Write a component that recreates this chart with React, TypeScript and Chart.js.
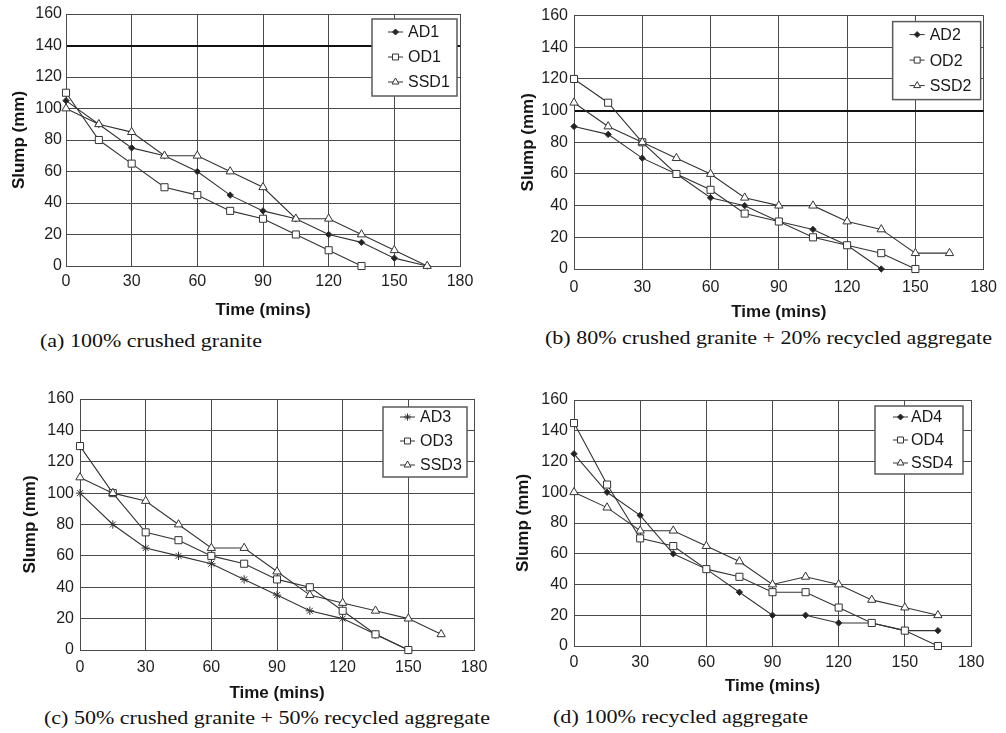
import React, { useEffect, useLayoutEffect, useRef } from 'react';
import { Chart, registerables } from 'chart.js';

Chart.register(...registerables);

// ---------- data ----------
const timeMins = [0, 15, 30, 45, 60, 75, 90, 105, 120, 135, 150, 165];
const xTickValues = [0, 30, 60, 90, 120, 150, 180];
const yTickValues = [0, 20, 40, 60, 80, 100, 120, 140, 160];

const ad1 = [105, 90, 75, 70, 60, 45, 35, 30, 20, 15, 5, 0];
const od1 = [110, 80, 65, 50, 45, 35, 30, 20, 10, 0];
const ssd1 = [100, 90, 85, 70, 70, 60, 50, 30, 30, 20, 10, 0];

const ad2 = [90, 85, 70, 60, 45, 40, 30, 25, 15, 0];
const od2 = [120, 105, 80, 60, 50, 35, 30, 20, 15, 10, 0];
const ssd2 = [105, 90, 80, 70, 60, 45, 40, 40, 30, 25, 10, 10];

const ad3 = [100, 80, 65, 60, 55, 45, 35, 25, 20, 10, 0];
const od3 = [130, 100, 75, 70, 60, 55, 45, 40, 25, 10, 0];
const ssd3 = [110, 100, 95, 80, 65, 65, 50, 35, 30, 25, 20, 10];

const ad4 = [125, 100, 85, 60, 50, 35, 20, 20, 15, 15, 10, 10];
const od4 = [145, 105, 70, 65, 50, 45, 35, 35, 25, 15, 10, 0];
const ssd4 = [100, 90, 75, 75, 65, 55, 40, 45, 40, 30, 25, 20];

const xTitle = 'Time (mins)';
const yTitle = 'Slump (mm)';

// ---------- styles ----------
const LINE = '#333333';
const GRID = '#4a4a4a';
const SANS = '"Liberation Sans", Arial, Helvetica, sans-serif';
const SERIF = '"Liberation Serif", "Times New Roman", Times, serif';

type MarkStyle = { point: string; r: number; fill: string; lr: number; order: number };
const DIAMOND: MarkStyle = { point: 'rectRot', r: 3.2, fill: '#222', lr: 3, order: 3 };
const SQUARE: MarkStyle = { point: 'rect', r: 5, fill: '#fff', lr: 4.2, order: 2 };
const TRIANGLE: MarkStyle = { point: 'triangle', r: 4.8, fill: '#fff', lr: 4, order: 1 };
const STAR: MarkStyle = { point: 'star', r: 4.2, fill: '#fff', lr: 3.6, order: 3 };

type Series = { label: string; values: number[]; style: MarkStyle };
type PanelCfg = {
  left: number; top: number; width: number;
  plot: { l: number; r: number; t: number; b: number };
  xTickPad: number; titleY: number; yTitleX: number; yTickPad: number;
  legend: { right: number; top: number; w: number; h: number; first: number; gap: number; ls: number; le: number; tx: number };
  emph: number | null;
  caption: string; capX: number; capY: number; capW: number;
  series: Series[];
};

const panels: PanelCfg[] = [
  {
    left: 0, top: 0, width: 500,
    plot: { l: 66, r: 460, t: 14, b: 266 },
    xTickPad: 6, titleY: 311, yTitleX: 19.5, yTickPad: 4,
    legend: { right: 3, top: 5, w: 85, h: 77, first: 13, gap: 25, ls: 16, le: 31, tx: 36 },
    emph: 140,
    caption: '(a) 100% crushed granite', capX: 40, capY: 341, capW: 222,
    series: [
      { label: 'AD1', values: ad1, style: DIAMOND },
      { label: 'OD1', values: od1, style: SQUARE },
      { label: 'SSD1', values: ssd1, style: TRIANGLE },
    ],
  },
  {
    left: 500, top: 0, width: 506,
    plot: { l: 574, r: 987, t: 13, b: 269 },
    xTickPad: 9, titleY: 313, yTitleX: 528, yTickPad: 6,
    legend: { right: 3, top: 6, w: 88, h: 78, first: 13, gap: 25.5, ls: 17, le: 32, tx: 37 },
    emph: 100,
    caption: '(b) 80% crushed granite + 20% recycled aggregate', capX: 545, capY: 338, capW: 447,
    series: [
      { label: 'AD2', values: ad2, style: DIAMOND },
      { label: 'OD2', values: od2, style: SQUARE },
      { label: 'SSD2', values: ssd2, style: TRIANGLE },
    ],
  },
  {
    left: 0, top: 370, width: 500,
    plot: { l: 80, r: 474, t: 399, b: 650 },
    xTickPad: 8, titleY: 694, yTitleX: 30, yTickPad: 6,
    legend: { right: 7, top: 8, w: 84, h: 70, first: 10, gap: 24, ls: 17, le: 32, tx: 37 },
    emph: null,
    caption: '(c) 50% crushed granite + 50% recycled aggregate', capX: 44, capY: 718, capW: 446,
    series: [
      { label: 'AD3', values: ad3, style: STAR },
      { label: 'OD3', values: od3, style: SQUARE },
      { label: 'SSD3', values: ssd3, style: TRIANGLE },
    ],
  },
  {
    left: 500, top: 370, width: 506,
    plot: { l: 574, r: 971, t: 400, b: 646 },
    xTickPad: 7, titleY: 687, yTitleX: 523, yTickPad: 6,
    legend: { right: 8, top: 6, w: 88, h: 68, first: 11, gap: 23, ls: 18, le: 33, tx: 36 },
    emph: null,
    caption: '(d) 100% recycled aggregate', capX: 553, capY: 717, capW: 255,
    series: [
      { label: 'AD4', values: ad4, style: DIAMOND },
      { label: 'OD4', values: od4, style: SQUARE },
      { label: 'SSD4', values: ssd4, style: TRIANGLE },
    ],
  },
];

// ---------- legend plugin ----------
function drawMarker(ctx: CanvasRenderingContext2D, style: MarkStyle, x: number, y: number) {
  const r = style.lr;
  ctx.save();
  ctx.strokeStyle = LINE;
  ctx.lineWidth = 1;
  ctx.fillStyle = style.fill;
  ctx.beginPath();
  if (style.point === 'rectRot') {
    ctx.moveTo(x, y - r); ctx.lineTo(x + r, y); ctx.lineTo(x, y + r); ctx.lineTo(x - r, y); ctx.closePath();
    ctx.fill(); ctx.stroke();
  } else if (style.point === 'rect') {
    const s = r * Math.SQRT1_2;
    ctx.rect(x - s, y - s, 2 * s, 2 * s);
    ctx.fill(); ctx.stroke();
  } else if (style.point === 'triangle') {
    ctx.moveTo(x, y - r); ctx.lineTo(x + r * 0.866, y + r * 0.5); ctx.lineTo(x - r * 0.866, y + r * 0.5); ctx.closePath();
    ctx.fill(); ctx.stroke();
  } else if (style.point === 'star') {
    const d = r * Math.SQRT1_2;
    ctx.moveTo(x - r, y); ctx.lineTo(x + r, y);
    ctx.moveTo(x, y - r); ctx.lineTo(x, y + r);
    ctx.moveTo(x - d, y - d); ctx.lineTo(x + d, y + d);
    ctx.moveTo(x - d, y + d); ctx.lineTo(x + d, y - d);
    ctx.stroke();
  }
  ctx.restore();
}

const boxLegend = {
  id: 'boxLegend',
  afterDatasetsDraw(chart: any, _args: any, opts: any) {
    const { ctx, chartArea } = chart;
    const x0 = chartArea.right - opts.right - opts.w;
    const y0 = chartArea.top + opts.top;
    ctx.save();
    ctx.fillStyle = '#ffffff';
    ctx.fillRect(x0, y0, opts.w, opts.h);
    ctx.strokeStyle = '#5a5a5a';
    ctx.lineWidth = 1.5;
    ctx.strokeRect(x0, y0, opts.w, opts.h);
    chart.data.datasets.forEach((ds: any, i: number) => {
      const y = y0 + opts.first + i * opts.gap;
      ctx.strokeStyle = LINE;
      ctx.lineWidth = 1;
      ctx.beginPath();
      ctx.moveTo(x0 + opts.ls, y);
      ctx.lineTo(x0 + opts.le, y);
      ctx.stroke();
      drawMarker(ctx, ds.markStyle, x0 + (opts.ls + opts.le) / 2, y);
      ctx.fillStyle = '#1a1a1a';
      ctx.font = `16px ${SANS}`;
      ctx.textBaseline = 'middle';
      ctx.textAlign = 'left';
      ctx.fillText(ds.label, x0 + opts.tx, y + 1);
    });
    ctx.restore();
  },
};

// ---------- components ----------
function Panel({ cfg }: { cfg: PanelCfg }) {
  const ref = useRef<HTMLCanvasElement>(null);
  const height = Math.round(cfg.titleY - cfg.top + 14);

  useEffect(() => {
    const canvas = ref.current;
    if (!canvas) return;
    const yAxisWidth = cfg.plot.l - cfg.left;
    const xAxisHeight = height - (cfg.plot.b - cfg.top);
    const chart = new Chart(canvas, {
      type: 'line',
      data: {
        datasets: cfg.series.map((s) => ({
          label: s.label,
          markStyle: s.style,
          order: s.style.order,
          data: s.values.map((v, i) => ({ x: timeMins[i], y: v })),
          borderColor: LINE,
          borderWidth: 1.1,
          backgroundColor: s.style.fill,
          pointStyle: s.style.point,
          pointRadius: s.style.r,
          pointHoverRadius: s.style.r,
          pointBorderColor: LINE,
          pointBackgroundColor: s.style.fill,
          pointBorderWidth: 1,
          tension: 0,
          fill: false,
          clip: false,
        })) as any,
      },
      options: {
        responsive: false,
        animation: false,
        events: [],
        layout: {
          padding: {
            left: 0,
            top: cfg.plot.t - cfg.top,
            right: cfg.left + cfg.width - cfg.plot.r,
            bottom: 0,
          },
        },
        plugins: {
          legend: { display: false },
          tooltip: { enabled: false },
          boxLegend: cfg.legend,
        } as any,
        scales: {
          x: {
            type: 'linear',
            min: 0,
            max: 180,
            afterBuildTicks: (s: any) => { s.ticks = xTickValues.map((v) => ({ value: v })); },
            afterFit: (s: any) => { s.height = xAxisHeight; },
            grid: { color: GRID, lineWidth: 1, drawTicks: false },
            border: { color: GRID, width: 1 },
            ticks: {
              padding: cfg.xTickPad,
              color: '#1e1e1e',
              font: { family: SANS, size: 16, lineHeight: 1.2 },
              maxRotation: 0,
              autoSkip: false,
            },
            title: {
              display: true,
              text: xTitle,
              color: '#151515',
              font: { family: SANS, size: 17, weight: 'bold', lineHeight: 1.2 },
              padding: { top: 0, bottom: 4 },
            },
          },
          y: {
            type: 'linear',
            min: 0,
            max: 160,
            afterBuildTicks: (s: any) => { s.ticks = yTickValues.map((v) => ({ value: v })); },
            afterFit: (s: any) => { s.width = yAxisWidth; },
            grid: {
              color: (c: any) => (cfg.emph !== null && c.tick && c.tick.value === cfg.emph ? '#111' : GRID),
              lineWidth: (c: any) => (cfg.emph !== null && c.tick && c.tick.value === cfg.emph ? 2 : 1),
              drawTicks: false,
            },
            border: { color: GRID, width: 1 },
            ticks: {
              padding: cfg.yTickPad,
              color: '#1e1e1e',
              font: { family: SANS, size: 16, lineHeight: 1.2 },
              autoSkip: false,
            },
            title: {
              display: true,
              text: yTitle,
              color: '#151515',
              font: { family: SANS, size: 17, weight: 'bold', lineHeight: 1.2 },
              padding: { top: cfg.yTitleX - cfg.left - 10.2, bottom: 0 },
            },
          },
        },
      },
      plugins: [boxLegend as any],
    });
    return () => chart.destroy();
  }, [cfg, height]);

  return (
    <canvas
      ref={ref}
      width={cfg.width}
      height={height}
      style={{ position: 'absolute', left: cfg.left, top: cfg.top, width: cfg.width, height }}
    />
  );
}

function Caption({ text, x, y, w }: { text: string; x: number; y: number; w: number }) {
  const ref = useRef<HTMLSpanElement>(null);
  useLayoutEffect(() => {
    const el = ref.current;
    if (!el) return;
    el.style.transform = 'none';
    const natural = el.getBoundingClientRect().width;
    if (natural > 0) el.style.transform = `scaleX(${w / natural})`;
  }, [text, w]);
  return (
    <span
      ref={ref}
      style={{
        position: 'absolute',
        left: x,
        top: y - 10,
        fontFamily: SERIF,
        fontSize: 18,
        lineHeight: '20px',
        whiteSpace: 'nowrap',
        transformOrigin: '0 0',
        color: '#111',
      }}
    >
      {text}
    </span>
  );
}

export default function App() {
  return (
    <div style={{ position: 'absolute', left: 0, top: 0, width: 1006, height: 733, background: '#fff', overflow: 'hidden' }}>
      {panels.map((p) => (
        <Panel key={p.caption} cfg={p} />
      ))}
      {panels.map((p) => (
        <Caption key={'c' + p.caption} text={p.caption} x={p.capX} y={p.capY} w={p.capW} />
      ))}
    </div>
  );
}
